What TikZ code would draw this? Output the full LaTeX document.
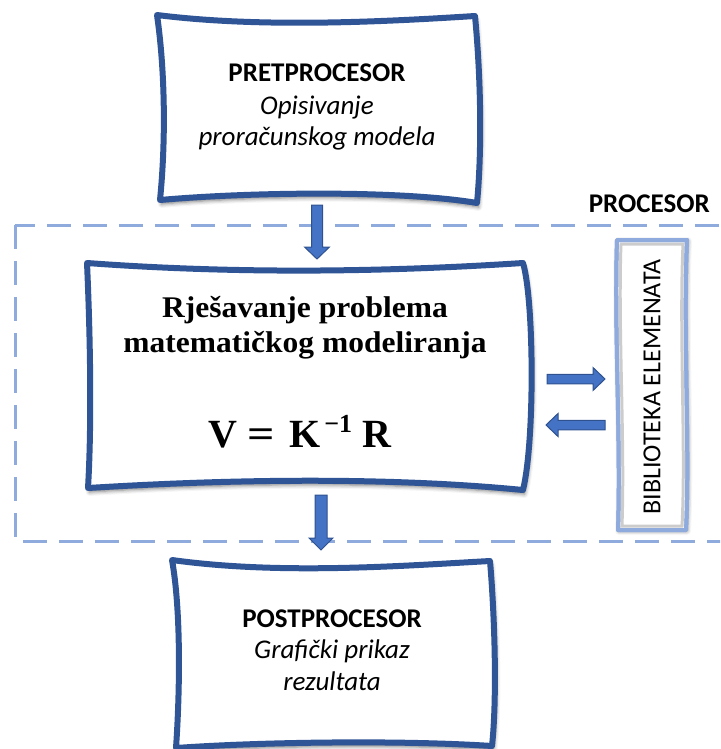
\documentclass[tikz,border=0pt]{standalone}
\usepackage{fontspec}
\setmainfont{Carlito}
\newfontfamily\camb[FakeStretch=1.05]{Liberation Serif}
\newfontfamily\cambf{Liberation Serif}
\usetikzlibrary{shadows.blur}
\definecolor{boxblue}{HTML}{2F5597}
\definecolor{arrfill}{HTML}{4472C4}
\definecolor{arrdraw}{HTML}{2F528F}
\definecolor{lightblue}{HTML}{8FAADC}
\tikzset{
  wavybox/.style={draw=boxblue, line width=6pt, line join=round, fill=white,
    blur shadow={shadow xshift=1.5pt, shadow yshift=-4pt, shadow blur radius=4pt, shadow opacity=55}},
  biblio/.style={draw=lightblue, line width=4pt, line join=round, fill=white,
    blur shadow={shadow xshift=1pt, shadow yshift=-1pt, shadow blur radius=4pt, shadow opacity=55}},
  blockarrow/.style={fill=arrfill, draw=arrdraw, line width=1pt, line join=miter},
  txt/.style={inner sep=0pt, anchor=base},
  titletxt/.style={txt, font=\fontsize{27}{32}\selectfont\bfseries},
  subtxt/.style={txt, font=\fontsize{27}{32}\selectfont\itshape},
  sertxt/.style={txt, font=\camb\bfseries\fontsize{30}{35}\selectfont},
  procdash/.style={draw=lightblue, line width=3pt, dash pattern=on 24pt off 12pt},
  pics/barrow/.style args={#1/#2/#3}{code={
    \path[blockarrow] (0,-#2) -- ({#1-12},-#2) -- ({#1-12},-#3) -- (#1,0)
      -- ({#1-12},#3) -- ({#1-12},#2) -- (0,#2) -- cycle;}}
}
\begin{document}
\begin{tikzpicture}[x=1pt,y=-1pt]
\useasboundingbox (0,0) rectangle (720,749);
\clip (0,0) rectangle (720,749);

% PROCESOR dashed frame
\draw[procdash] (15,225) rectangle (735,541);
\node[titletxt, anchor=base east] (proc) at (710,212) {PROCESOR};

% top box
\path[wavybox] (157,15) .. controls (260,28) and (380,22) .. (475,16)
  .. controls (481,80) and (482,150) .. (477,203)
  .. controls (400,190) and (250,192) .. (160,200)
  .. controls (166,140) and (165,70) .. (157,15) -- cycle;
\node[titletxt] (pre) at (317,82) {PRETPROCESOR};
\node[subtxt] (pre1) at (317,114) {Opisivanje};
\node[subtxt] (pre2) at (317,146) {proračunskog modela};

% main box
\path[wavybox] (87,263) .. controls (250,275) and (400,271) .. (523,263)
  .. controls (534,300) and (535,440) .. (523,490)
  .. controls (400,478) and (250,478) .. (88,488)
  .. controls (92,420) and (90,330) .. (87,263) -- cycle;
\node[sertxt] (m1) at (305,317) {Rješavanje problema};
\node[sertxt] (m2) at (305,352) {matematičkog modeliranja};
\node[txt, anchor=base west, font=\cambf\bfseries\fontsize{40}{40}\selectfont] (m3) at (208,447)
  {\makebox[29pt]{V}\hspace{10pt}\makebox[28pt]{\scalebox{1.2}[1]{=}}\hspace{12pt}\makebox[35pt]{K}\raisebox{15pt}{\makebox[32pt]{\fontsize{26}{26}\selectfont −1}}\hspace{9pt}\makebox[28pt]{R}};

% library box
\path[biblio] (617,240) -- (687,240) .. controls (683,330) and (690,450) .. (686,530)
  -- (618,530) .. controls (621,440) and (614,330) .. (617,240) -- cycle;
\draw[gray, opacity=0.4, line width=3pt] (621,244) -- (683,244) .. controls (679,330) and (686,450) .. (682,526)
  -- (622,526) .. controls (625,440) and (618,330) .. (621,244) -- cycle;
\path[draw=lightblue, line width=4pt, line join=round] (617,240) -- (687,240) .. controls (683,330) and (690,450) .. (686,530)
  -- (618,530) .. controls (621,440) and (614,330) .. (617,240) -- cycle;
\node[rotate=90, inner sep=0pt, font=\fontsize{26}{26}\selectfont] (bib) at (652,387) {BIBLIOTEKA ELEMENATA};

% bottom box
\path[wavybox] (172,560) .. controls (280,575) and (400,566) .. (490,561)
  .. controls (495,620) and (497,700) .. (492,746)
  .. controls (400,740) and (260,742) .. (176,748)
  .. controls (180,690) and (181,610) .. (172,560) -- cycle;
\node[titletxt] (post) at (332,627) {POSTPROCESOR};
\node[subtxt] (post1) at (332,658) {Grafički prikaz};
\node[subtxt] (post2) at (332,690) {rezultata};

% block arrows
\coordinate (a1) at (317,205);
\coordinate (a2) at (321,495);
\coordinate (a3) at (547,379);
\coordinate (a4) at (605,425);
\pic[rotate=-90] at (a1) {barrow={54/5.5/12.5}};
\pic[rotate=-90] at (a2) {barrow={55/6/12}};
\pic at (a3) {barrow={58/4.75/11.5}};
\pic[rotate=180] at (a4) {barrow={59/4.75/11.5}};
\end{tikzpicture}
\end{document}
